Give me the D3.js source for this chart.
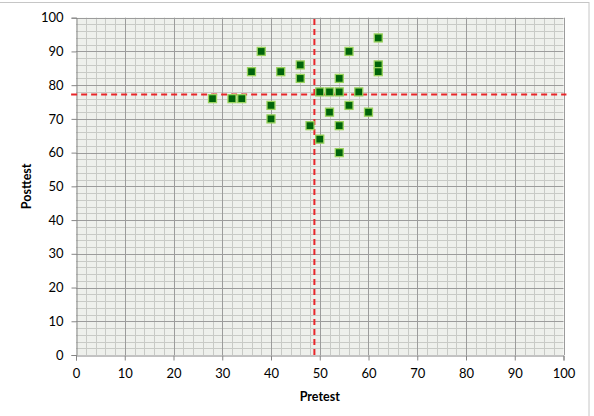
<!DOCTYPE html>
<html>
<head>
<meta charset="utf-8">
<script src="https://cdn.jsdelivr.net/npm/d3@7"></script>
<style>
  body { margin: 0; background: #fff; }
  svg { display: block; font-family: Lato, "Open Sans", sans-serif; }
</style>
</head>
<body>
<svg id="chart" width="594" height="416"></svg>
<script>
// pretest / posttest scores
const pretest = [28, 32, 34, 36, 38, 40, 40, 42, 46, 46, 48, 50, 50, 52, 52, 54, 54, 54, 54, 56, 56, 58, 60, 62, 62, 62]
const posttest = [76, 76, 76, 84, 90, 74, 70, 84, 86, 82, 68, 78, 64, 78, 72, 82, 78, 68, 60, 90, 74, 78, 72, 94, 86, 84]
const xTicks = [0, 10, 20, 30, 40, 50, 60, 70, 80, 90, 100]
const yTicks = [0, 10, 20, 30, 40, 50, 60, 70, 80, 90, 100]
const PRETEST_MEAN = 48.9
const POSTTEST_MEAN = 77.2

const svg = d3.select('#chart')
const margin = {left: 76, right: 30.5, top: 17.7, bottom: 61}
const W = 594, H = 416
const x = d3.scaleLinear().domain([0, 100]).range([margin.left, W - margin.right])
const y = d3.scaleLinear().domain([0, 100]).range([H - margin.bottom, margin.top])

// outer chart border (cropped)
svg.append('rect')
    .attr('x', -2).attr('y', 2.5)
    .attr('width', 591).attr('height', 420)
    .attr('fill', 'none')
    .attr('stroke', '#c6c6c6')
    .attr('stroke-width', 1)

// plot background
svg.append('rect')
    .attr('x', x(0)).attr('y', y(100))
    .attr('width', x(100) - x(0)).attr('height', y(0) - y(100))
    .attr('fill', '#eef0ec')

const minor = d3.range(0, 101, 2)
const grid = svg.append('g')
grid.selectAll('.vminor').data(minor.filter(d => d % 10 !== 0)).join('line')
    .attr('x1', d => Math.round(x(d)) + 0.5).attr('x2', d => Math.round(x(d)) + 0.5)
    .attr('y1', y(0)).attr('y2', y(100))
    .attr('stroke', '#c8cac6').attr('stroke-width', 1)
grid.selectAll('.hminor').data(minor.filter(d => d % 10 !== 0)).join('line')
    .attr('y1', d => Math.round(y(d)) + 0.5).attr('y2', d => Math.round(y(d)) + 0.5)
    .attr('x1', x(0)).attr('x2', x(100))
    .attr('stroke', '#c8cac6').attr('stroke-width', 1)
grid.selectAll('.vmajor').data(xTicks.slice(1)).join('line')
    .attr('x1', d => Math.round(x(d)) + 0.5).attr('x2', d => Math.round(x(d)) + 0.5)
    .attr('y1', y(0)).attr('y2', y(100))
    .attr('stroke', '#9c9c9c').attr('stroke-width', 1)
grid.selectAll('.hmajor').data(yTicks.slice(1)).join('line')
    .attr('y1', d => Math.round(y(d)) + 0.5).attr('y2', d => Math.round(y(d)) + 0.5)
    .attr('x1', x(0)).attr('x2', x(100))
    .attr('stroke', '#9c9c9c').attr('stroke-width', 1)

// axes
const xAxis = svg.append('g')
    .attr('transform', `translate(0,${Math.round(y(0)) + 0.5})`)
    .call(d3.axisBottom(x).tickValues(xTicks).tickSize(5).tickPadding(8))
const yAxis = svg.append('g')
    .attr('transform', `translate(${Math.round(x(0)) + 0.5},0)`)
    .call(d3.axisLeft(y).tickValues(yTicks).tickSize(5).tickPadding(8))
;[xAxis, yAxis].forEach(g => {
    g.select('.domain').attr('stroke', '#868686')
    g.selectAll('.tick line').attr('stroke', '#868686')
    g.selectAll('.tick text')
        .attr('fill', '#000')
        .style('font-size', '13px')
        .style('font-family', 'Lato, "Open Sans", sans-serif')
})

// mean lines
svg.append('line')
    .attr('x1', x(-1)).attr('x2', x(100.6))
    .attr('y1', y(POSTTEST_MEAN)).attr('y2', y(POSTTEST_MEAN))
    .attr('stroke', '#e8262a').attr('stroke-width', 2)
    .attr('stroke-dasharray', '6,4')
svg.append('line')
    .attr('x1', x(PRETEST_MEAN)).attr('x2', x(PRETEST_MEAN))
    .attr('y1', y(0)).attr('y2', y(100))
    .attr('stroke', '#e8262a').attr('stroke-width', 2)
    .attr('stroke-dasharray', '6,4')

// points
const pts = pretest.map((p, i) => ({x: p, y: posttest[i]}))
svg.append('g').selectAll('rect').data(pts).join('rect')
    .attr('x', d => x(d.x) - 4).attr('y', d => y(d.y) - 4)
    .attr('width', 8).attr('height', 8)
    .attr('fill', '#00640a')
    .attr('stroke', '#9ad35c')
    .attr('stroke-width', 1.3)

// axis titles
svg.append('text')
    .attr('x', (x(0) + x(100)) / 2).attr('y', 401)
    .attr('text-anchor', 'middle')
    .style('font-size', '12.5px').style('font-weight', 'bold')
    .text('Pretest')
svg.append('text')
    .attr('transform', `translate(31,${(y(0) + y(100)) / 2}) rotate(-90)`)
    .attr('text-anchor', 'middle')
    .style('font-size', '12.5px').style('font-weight', 'bold')
    .text('Posttest')
</script>
</body>
</html>
